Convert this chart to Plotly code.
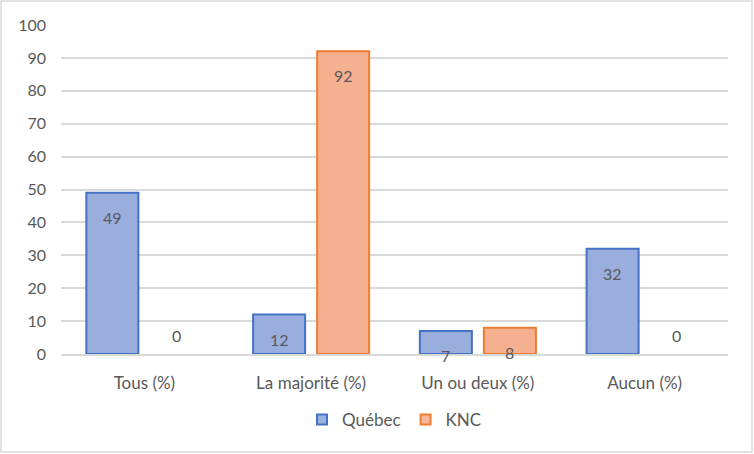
import plotly.graph_objects as go

categories = ["Tous (%)", "La majorité (%)", "Un ou deux (%)", "Aucun (%)"]
quebec = [49, 12, 7, 32]
knc = [0, 92, 8, 0]
series_names = ["Québec", "KNC"]
y_ticks = [0, 10, 20, 30, 40, 50, 60, 70, 80, 90, 100]

FONT = "Lato, 'Open Sans', sans-serif"
TXT = "#595959"

fills = ["#9aaedd", "#f5b08f"]
legend_fills = ["#9fb2df", "#f6b699"]
borders = ["#4472c4", "#ed7d31"]

fig = go.Figure()
for vals, name, fc, bc in zip([quebec, knc], series_names, fills, borders):
    fig.add_trace(go.Bar(
        x=categories, y=vals, name=name, showlegend=False,
        marker=dict(color=fc, line=dict(color=bc, width=[2 if v > 0 else 0 for v in vals])),
    ))
for name, fc, bc in zip(series_names, legend_fills, borders):
    fig.add_trace(go.Scatter(
        x=[None], y=[None], mode="markers", name=name,
        marker=dict(symbol="square", size=10, color=fc, line=dict(color=bc, width=2)),
    ))

bargap = 0.232
offset = (1 - bargap) / 4
annotations = []
for s, vals in enumerate([quebec, knc]):
    for i, v in enumerate(vals):
        xpos = i + (-offset if s == 0 else offset)
        if v > 0:
            annotations.append(dict(x=xpos, y=v, xref="x", yref="y", text=str(v),
                                    showarrow=False, yanchor="top", yshift=-13,
                                    font=dict(family=FONT, size=16, color=TXT)))
        else:
            annotations.append(dict(x=xpos, y=v, xref="x", yref="y", text=str(v),
                                    showarrow=False, yanchor="bottom", yshift=7,
                                    font=dict(family=FONT, size=16, color=TXT)))

W, H = 754, 454
l, r, t, b = 61, 26, 25, 100
pw, ph = W - l - r, H - t - b

fig.update_layout(
    width=W, height=H,
    margin=dict(l=l, r=r, t=t, b=b),
    paper_bgcolor="white", plot_bgcolor="white",
    barmode="group", bargap=bargap, bargroupgap=0.1875,
    font=dict(family=FONT, size=16, color=TXT),
    showlegend=True,
    legend=dict(orientation="h", x=0.5, xanchor="center", y=(354 - 420) / ph,
                yanchor="middle", font=dict(family=FONT, size=17, color=TXT),
                itemwidth=30, traceorder="normal", tracegroupgap=0),
    annotations=annotations,
    shapes=[dict(type="rect", xref="paper", yref="paper",
                 x0=(1 - l) / pw, x1=(752 - l) / pw,
                 y0=(H - b - 452) / ph, y1=(H - b - 1) / ph,
                 line=dict(color="#d9d9d9", width=1.5), fillcolor="rgba(0,0,0,0)", layer="below")],
)
fig.update_xaxes(showgrid=False, showline=True, linecolor="#d9d9d9", linewidth=1.5,
                 ticks="", tickfont=dict(family=FONT, size=17, color=TXT), ticklabelstandoff=13)
fig.update_yaxes(range=[0, 100], tickvals=y_ticks, showgrid=True, gridcolor="#d9d9d9",
                 gridwidth=1.5, zeroline=False, showline=False, ticks="",
                 tickfont=dict(family=FONT, size=16, color=TXT), ticklabelstandoff=14)

fig.write_html("out.html")
